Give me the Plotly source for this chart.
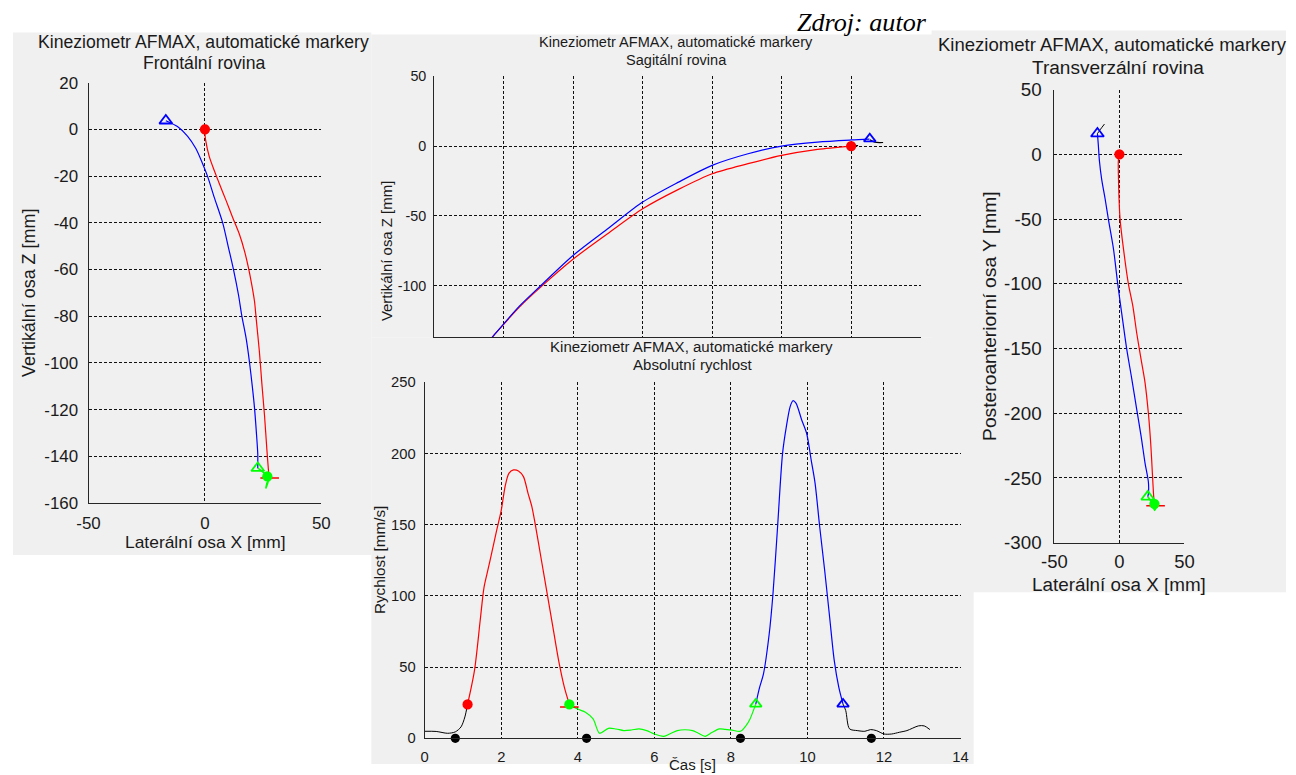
import plotly.graph_objects as go

W, H = 1296, 775
FONT = "Liberation Sans, Arial, sans-serif"
TXT = "#1a1a1a"
GRAY = "#f0f0f0"
RED, BLUE, GREEN, BLACK = "#ff0000", "#0000ff", "#00ff00", "#000000"

# the photographed page shows the figure inset by ~12 px and slightly shrunk;
# layout positions below are given in picture pixels and mapped back to figure pixels
SX, CX = 0.9818, 11.8
SY, CY = 0.9700, 11.6
FS = 1.0 / ((SX + SY) / 2)

# ---------------- data: frontal plane (X vs Z) ----------------
fr_red_x = [0, 0, 0.3, 1.9, 4.0, 6.2, 9.1, 11.9, 14.8, 17.0, 18.7, 20.1, 21.3, 22.0, 23.4, 24.4, 25.6, 26.6, 27.4]
fr_red_z = [0, -1.7, -4.6, -11.8, -17.6, -23.3, -30.5, -37.7, -44.9, -52.1, -59.3, -66.5, -73.7, -80.9, -95.3, -108.2, -122.6, -137.0, -147.5]
fr_green_x = [27.4, 28.3, 26.8, 26.2, 27.5, 25.3, 23.8, 22.7]
fr_green_z = [-147.5, -149.5, -151.0, -153.5, -148.5, -147.0, -145.8, -145.0]
fr_blue_x = [22.7, 22.7, 22.7, 22.1, 21.3, 20.3, 19.1, 17.7, 15.8, 14.4, 12.2, 10.1, 7.6, 4.0, 1.1, -1.0, -3.9, -7.5, -11.8, -16.8]
fr_blue_z = [-145.0, -142.7, -139.1, -129.8, -119.3, -109.6, -99.4, -89.5, -79.6, -70.8, -59.7, -50.6, -39.9, -29.1, -20.0, -14.7, -8.2, -2.9, 1.2, 3.7]
fr_mark_red = (0, 0)
fr_mark_blue_tri = (-16.8, 3.7)
fr_mark_green_tri = (22.7, -145.0)
fr_mark_green_dot = (26.8, -148.5)

# ---------------- data: sagittal plane (Y vs Z) ----------------
sg_red_y = [0, -24.2, -50, -74.2, -100, -124.2, -150, -174.2, -199.7, -223.4, -238.7, -257.1, -270]
sg_red_z = [0, -2.4, -6.7, -12.6, -19.8, -31.0, -44.9, -62.0, -80.7, -101.0, -115.3, -135.6, -150]
sg_blue_y = [13.2, 0, -24.2, -50, -74.2, -100, -124.2, -150, -174.2, -199.7, -223.4, -238.7, -257.1, -265]
sg_blue_z = [5.0, 4.4, 2.9, 0.0, -5.5, -13.8, -25.8, -40.1, -58.5, -78.0, -100.0, -114.6, -135.6, -145]
sg_black_y = [13.5, 17.0, 23.0]
sg_black_z = [4.5, 2.8, 2.6]
sg_black0_y = [0, 3, 5]
sg_black0_z = [0, 0.3, 0.4]
sg_mark_red = (0, 0)
sg_mark_blue_tri = (13.4, 5.2)

# ---------------- data: transverse plane (X vs Y) ----------------
tr_red_x = [0, -0.8, -0.8, -0.3, 0.5, 3.1, 6.9, 10.3, 13.3, 16.7, 19.7, 22.3, 24.1, 25.4, 26.2, 26.9]
tr_red_y = [0, -4.7, -15, -34, -50, -72.8, -100, -117, -138, -158.6, -176.3, -200.3, -223.7, -247.3, -262, -271]
tr_blue_x = [21.8, 22.3, 22.3, 19.7, 16.7, 13.3, 9.5, 5.6, 1.8, -1.3, -4.6, -8.5, -11.0, -13.6, -15.4, -16.2, -16.9]
tr_blue_y = [-264.5, -262, -253.3, -238.5, -217.8, -197, -173.4, -150.3, -123, -100, -72.8, -50, -34.3, -19.5, -4.7, 7.1, 16]
tr_green_x = [26.9, 28.5, 27.0, 25.5, 24.0, 21.8]
tr_green_y = [-270, -272, -275, -270.5, -267.5, -264.5]
tr_black_x = [-16.9, -14.9, -11.5]
tr_black_y = [16, 18.9, 23.4]
tr_mark_red = (0, 0)
tr_mark_blue_tri = (-16.9, 16)
tr_mark_green_tri = (21.8, -264.5)
tr_mark_green_dot = (26.9, -270)

# ---------------- data: absolute speed ----------------
v_pre_t = [0, 0.3, 0.6, 0.8, 0.95, 1.05, 1.12]
v_pre_v = [4.9, 4.8, 3.5, 4.5, 8.0, 15.0, 23.8]
v_red_t = [1.12, 1.3, 1.45, 1.55, 1.65, 1.75, 1.88, 2.0, 2.1, 2.2, 2.32, 2.45, 2.58, 2.7, 2.8, 2.9, 3.05, 3.2, 3.35, 3.5, 3.65, 3.78]
v_red_v = [23.8, 47.5, 82.7, 106, 118, 130, 146, 160, 176.6, 186, 188.4, 187.7, 183.7, 172, 162.6, 148.5, 125, 101.5, 78, 54.5, 35.7, 23.8]
v_green_t = [3.78, 4.0, 4.2, 4.4, 4.57, 4.8, 5.0, 5.2, 5.4, 5.6, 5.8, 6.0, 6.25, 6.4, 6.6, 6.8, 7.0, 7.15, 7.33, 7.5, 7.7, 7.85, 8.0, 8.25, 8.4, 8.5, 8.65]
v_green_v = [23.8, 20.5, 18.3, 13.6, 3.5, 7.0, 6.5, 5.4, 5.8, 6.6, 5.4, 3.0, 1.4, 3.0, 5.4, 6.0, 5.4, 3.5, 1.4, 4.0, 6.6, 6.2, 5.9, 4.9, 9.0, 13.6, 24.0]
v_blue_t = [8.65, 8.75, 8.85, 9.0, 9.1, 9.22, 9.35, 9.45, 9.55, 9.62, 9.7, 9.85, 9.98, 10.1, 10.2, 10.32, 10.45, 10.58, 10.7, 10.82, 10.93]
v_blue_v = [24, 35.7, 45, 73, 101.5, 148.5, 200, 219, 233, 237, 235.3, 223.5, 214, 195, 179, 148.5, 118, 85, 54.7, 35.7, 24]
v_post_t = [10.93, 11.0, 11.1, 11.3, 11.5, 11.65, 11.8, 12.0, 12.2, 12.4, 12.6, 12.9, 13.05, 13.2]
v_post_v = [24, 19.5, 6.6, 5.4, 4.9, 6.1, 5.4, 3.0, 3.0, 4.2, 5.4, 8.7, 8.7, 6.1]
v_black_dots_t = [0.80, 4.23, 8.25, 11.67]
v_black_dots_v = [0, 0, 0, 0]

# ---------------- tick labels ----------------
fr_x_ticks = [-50, 0, 50]
fr_x_text = ["-50", "0", "50"]
fr_z_ticks = [20, 0, -20, -40, -60, -80, -100, -120, -140, -160]
fr_z_text = ["20", "0", "-20", "-40", "-60", "-80", "-100", "-120", "-140", "-160"]
sg_y_ticks = [-300, -250, -200, -150, -100, -50, 0, 50]
sg_z_ticks = [50, 0, -50, -100]
sg_z_text = ["50", "0", "-50", "-100"]
v_t_ticks = [0, 2, 4, 6, 8, 10, 12, 14]
v_t_text = ["0", "2", "4", "6", "8", "10", "12", "14"]
v_v_ticks = [0, 50, 100, 150, 200, 250]
v_v_text = ["0", "50", "100", "150", "200", "250"]
tr_x_ticks = [-50, 0, 50]
tr_x_text = ["-50", "0", "50"]
tr_y_ticks = [50, 0, -50, -100, -150, -200, -250, -300]
tr_y_text = ["50", "0", "-50", "-100", "-150", "-200", "-250", "-300"]

TITLE1 = "Kineziometr AFMAX, automatické markery"


def fx(X):
    return min(max((X - CX) / SX, 0), W)


def fy(Y):
    return min(max((Y - CY) / SY, 0), H)


def px(X):
    return fx(X) / W


def py(Y):
    return 1 - fy(Y) / H


def dom_x(a, b):
    return [px(a), px(b)]


def dom_y(top, bottom):
    return [py(bottom), py(top)]


def f(size):
    return size * FS


fig = go.Figure()


def line(xs, ys, color, xa, ya, width=1.2):
    fig.add_trace(go.Scatter(x=xs, y=ys, mode="lines", xaxis=xa, yaxis=ya,
                             line=dict(color=color, width=width, shape="spline", smoothing=0.8),
                             hoverinfo="skip", showlegend=False))


def mark(pt, symbol, color, size, xa, ya, lw=1.8):
    fig.add_trace(go.Scatter(x=[pt[0]], y=[pt[1]], mode="markers", xaxis=xa, yaxis=ya,
                             marker=dict(symbol=symbol, color=color, size=f(size),
                                         line=dict(color=color, width=lw)),
                             hoverinfo="skip", showlegend=False))


# frontal -> x / y
line(fr_red_x, fr_red_z, RED, "x", "y")
line(fr_blue_x, fr_blue_z, BLUE, "x", "y")
line(fr_green_x, fr_green_z, GREEN, "x", "y", 1.6)
mark(fr_mark_red, "circle", RED, 10, "x", "y", 0)
mark(fr_mark_blue_tri, "triangle-up-open", BLUE, 11, "x", "y")
mark((27.8, -149.2), "line-ew-open", RED, 13, "x", "y", 1.6)
mark(fr_mark_green_tri, "triangle-up-open", GREEN, 11, "x", "y")
mark(fr_mark_green_dot, "circle", GREEN, 10, "x", "y", 0)

# sagittal -> x2 / y2
line(sg_red_y, sg_red_z, RED, "x2", "y2")
line(sg_blue_y, sg_blue_z, BLUE, "x2", "y2")
line(sg_black_y, sg_black_z, BLACK, "x2", "y2")
line(sg_black0_y, sg_black0_z, BLACK, "x2", "y2")
mark(sg_mark_red, "circle", RED, 10, "x2", "y2", 0)
mark(sg_mark_blue_tri, "triangle-up-open", BLUE, 10, "x2", "y2")

# speed -> x3 / y3
line(v_pre_t, v_pre_v, BLACK, "x3", "y3", 1.0)
line(v_red_t, v_red_v, RED, "x3", "y3")
line(v_green_t, v_green_v, GREEN, "x3", "y3")
line(v_blue_t, v_blue_v, BLUE, "x3", "y3")
line(v_post_t, v_post_v, BLACK, "x3", "y3", 1.0)
mark((v_red_t[0], v_red_v[0]), "circle", RED, 10, "x3", "y3", 0)
mark((v_red_t[-1], 22.0), "line-ew-open", RED, 13, "x3", "y3", 1.6)
mark((v_green_t[0], v_green_v[0]), "circle", GREEN, 10, "x3", "y3", 0)
mark((v_blue_t[0], v_blue_v[0]), "triangle-up-open", GREEN, 10, "x3", "y3")
mark((v_blue_t[-1], v_blue_v[-1]), "triangle-up-open", BLUE, 10, "x3", "y3")
fig.add_trace(go.Scatter(x=v_black_dots_t, y=v_black_dots_v, mode="markers", xaxis="x3", yaxis="y3",
                         marker=dict(symbol="circle", color=BLACK, size=f(9)),
                         cliponaxis=False, hoverinfo="skip", showlegend=False))

# transverse -> x4 / y4
line(tr_red_x, tr_red_y, RED, "x4", "y4")
line(tr_blue_x, tr_blue_y, BLUE, "x4", "y4")
line(tr_green_x, tr_green_y, GREEN, "x4", "y4", 1.6)
line(tr_black_x, tr_black_y, BLACK, "x4", "y4", 1.0)
mark(tr_mark_red, "circle", RED, 10, "x4", "y4", 0)
mark(tr_mark_blue_tri, "triangle-up-open", BLUE, 11, "x4", "y4")
mark((27.8, -271.5), "line-ew-open", RED, 13, "x4", "y4", 1.6)
mark(tr_mark_green_tri, "triangle-up-open", GREEN, 11, "x4", "y4")
mark(tr_mark_green_dot, "circle", GREEN, 10, "x4", "y4", 0)


def axis(rng, domain, anchor, fs, tickvals=None, ticktext=None, showlabels=True, standoff=4):
    d = dict(range=rng, domain=domain, anchor=anchor, showgrid=True, gridcolor="#111111",
             griddash="3px,2px", gridwidth=1, zeroline=False, showline=True,
             linecolor="#262626", linewidth=1, mirror=False, ticks="",
             tickfont=dict(family=FONT, size=f(fs), color=TXT), showticklabels=showlabels,
             fixedrange=True, ticklabelstandoff=standoff)
    if tickvals is not None:
        d["tickmode"] = "array"
        d["tickvals"] = tickvals
        if ticktext is not None:
            d["ticktext"] = ticktext
    return d


fig.update_layout(
    width=W, height=H, margin=dict(l=0, r=0, t=0, b=0),
    paper_bgcolor="white", plot_bgcolor="white", showlegend=False,
    xaxis=axis([-50, 50], dom_x(87.3, 320), "y", 16.5, fr_x_ticks, fr_x_text, standoff=5),
    yaxis=axis([-160, 20], dom_y(84, 503.3), "x", 16.5, fr_z_ticks, fr_z_text, standoff=6),
    xaxis2=axis([-300, 50], dom_x(432.8, 919), "y2", 14, sg_y_ticks, None, showlabels=False),
    yaxis2=axis([-137, 50], dom_y(77.7, 338), "x2", 14, sg_z_ticks, sg_z_text, standoff=4),
    xaxis3=axis([0, 14], dom_x(423.3, 958.9), "y3", 14.4, v_t_ticks, v_t_text, standoff=5),
    yaxis3=axis([0, 250], dom_y(382.7, 737.7), "x3", 14.4, v_v_ticks, v_v_text, standoff=5),
    xaxis4=axis([-50, 50], dom_x(1052.7, 1182.7), "y4", 18.0, tr_x_ticks, tr_x_text, standoff=2),
    yaxis4=axis([-300, 50], dom_y(91, 542.7), "x4", 18.3, tr_y_ticks, tr_y_text, standoff=8),
)

# gray figure backgrounds
shapes = []
for (x0, y0, x1, y1) in [(8, 34, 370, 555), (370, 36, 932, 338), (930, 32, 1296, 592), (370, 338, 972, 775)]:
    shapes.append(dict(type="rect", xref="paper", yref="paper", x0=px(x0), x1=px(x1),
                       y0=py(y1), y1=py(y0), fillcolor=GRAY, line=dict(width=0), layer="below"))
fig.update_layout(shapes=shapes)

ann = []


def text(s, x, y, size, angle=0, family=FONT, xanchor="center"):
    ann.append(dict(text=s, x=px(x), y=py(y), xref="paper", yref="paper", showarrow=False,
                    xanchor=xanchor, yanchor="middle", textangle=angle,
                    font=dict(family=family, size=f(size), color=TXT)))


# left
text(TITLE1, 202, 44, 17.2)
text("Frontální rovina", 203, 64.5, 17.2)
text("Laterální osa X [mm]", 204, 542, 17)
text("Vertikální osa Z [mm]", 28, 293.5, 17.5, -90)
# middle top
text(TITLE1, 674, 43.3, 14.2)
text("Sagitální rovina", 675, 61.7, 14.2)
text("Vertikální osa Z [mm]", 384.6, 252, 14.6, -90)
# bottom
text(TITLE1, 690, 347.3, 14.7)
text("Absolutní rychlost", 691, 365, 14.7)
text("Čas [s]", 691, 767, 14.7)
text("Rychlost [mm/s]", 377.7, 560, 14.9, -90)
# right (first title line kept inside the page edge)
text(TITLE1, 1111, 45.5, 18.1)
text("Transverzální rovina", 1116, 69, 18.6)
text("Laterální osa X [mm]", 1117.7, 584, 18.4)
text("Posteroanteriorní osa Y [mm]", 988, 317, 18.8, -90)
# source note
ann.append(dict(text="<i>Zdroj: autor</i>", x=px(927), y=py(24), xref="paper", yref="paper",
                showarrow=False, xanchor="right", yanchor="middle",
                font=dict(family="Liberation Serif, Times New Roman, serif", size=f(25.5), color="#000000")))
fig.update_layout(annotations=ann)

fig.write_html("out.html")
